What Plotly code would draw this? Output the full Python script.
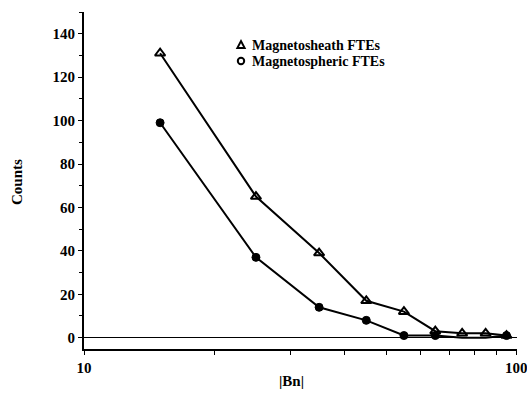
import plotly.graph_objects as go

# |Bn| bin centres and event counts per bin
bn = [15, 25, 35, 45, 55, 65, 75, 85, 95]
sheath_counts = [131, 65, 39, 17, 12, 3, 2, 2, 1]
sphere_counts = [99, 37, 14, 8, 1, 1, 0, 0, 1]

x_tick_vals = [10, 20, 30, 40, 50, 60, 70, 80, 90, 100]
x_tick_text = ["10", "", "", "", "", "", "", "", "", "100"]
y_tick_vals = [0, 20, 40, 60, 80, 100, 120, 140]

series_names = ["Magnetosheath FTEs", "Magnetospheric FTEs"]

serif = "Liberation Serif"
W, H = 527, 394
L, R, T, B = 84, 10, 12, 45
plot_w = W - L - R
plot_h = H - T - B


def py(pixel_y):
    return (H - B - pixel_y) / plot_h


def px(pixel_x):
    return (pixel_x - L) / plot_w


fig = go.Figure()

fig.add_trace(go.Scatter(
    x=bn, y=sheath_counts, mode="lines+markers", showlegend=False,
    line=dict(color="#000000", width=2),
    marker=dict(symbol="triangle-up-open", size=9, color="#000000",
                line=dict(color="#000000", width=2)),
))
# points lying on the baseline are drawn without a marker
sphere_sizes = [8 if c > 0 else 0 for c in sphere_counts]
fig.add_trace(go.Scatter(
    x=bn, y=sphere_counts, mode="lines+markers", showlegend=False,
    line=dict(color="#000000", width=2),
    marker=dict(symbol="circle", size=sphere_sizes, color="#000000",
                opacity=1, line=dict(color="#000000", width=1)),
))

# key: symbols drawn as shapes, labels as text
key_x, key_rows = 241, [45, 61]
tri = 3.6
shapes = [
    dict(type="path", xref="paper", yref="paper",
         path=(f"M {px(key_x - tri)} {py(key_rows[0] + tri * 0.8)} "
               f"L {px(key_x + tri)} {py(key_rows[0] + tri * 0.8)} "
               f"L {px(key_x)} {py(key_rows[0] - tri * 1.1)} Z"),
         line=dict(color="black", width=2)),
    dict(type="circle", xref="paper", yref="paper",
         x0=px(key_x - 3.2), x1=px(key_x + 3.2),
         y0=py(key_rows[1] + 3.2), y1=py(key_rows[1] - 3.2),
         line=dict(color="black", width=2)),
]

annotations = [
    dict(text=f"<b>{name}</b>", xref="paper", yref="paper",
         x=px(250), y=py(row), xanchor="left", yanchor="middle",
         showarrow=False, font=dict(family=serif, size=14))
    for name, row in zip(series_names, key_rows)
]
annotations += [
    dict(text="<b>|Bn|</b>", xref="paper", yref="paper",
         x=px(291), y=py(381), xanchor="center", yanchor="middle",
         showarrow=False, font=dict(family=serif, size=15)),
    dict(text="<b>Counts</b>", xref="paper", yref="paper",
         x=px(17), y=py(182), xanchor="center", yanchor="middle",
         textangle=-90, showarrow=False, font=dict(family=serif, size=15)),
]

fig.update_layout(
    width=W, height=H,
    margin=dict(l=L, r=R, t=T, b=B),
    paper_bgcolor="white", plot_bgcolor="white",
    font=dict(family=serif, size=15, color="black"),
    showlegend=False,
    shapes=shapes,
    annotations=annotations,
)

fig.update_xaxes(
    type="log", range=[1, 2.002],
    tickvals=x_tick_vals,
    ticktext=[f"<b>{t}</b>" if t else "" for t in x_tick_text],
    ticklabeloverflow="allow",
    ticks="outside", ticklen=4, tickwidth=1, tickcolor="black",
    tickfont=dict(family=serif, size=15),
    showline=True, linewidth=2, linecolor="black",
    showgrid=False, zeroline=False, automargin=False,
)
fig.update_yaxes(
    range=[-5.2, 150],
    tickvals=y_tick_vals, ticktext=[f"<b>{v}</b>" for v in y_tick_vals],
    ticks="outside", ticklen=4, tickwidth=1, tickcolor="black",
    tickfont=dict(family=serif, size=15),
    minor=dict(ticks="outside", ticklen=3, tickwidth=1, tickcolor="black",
               dtick=10, showgrid=False),
    showline=True, linewidth=2, linecolor="black",
    showgrid=False,
    zeroline=True, zerolinecolor="black", zerolinewidth=1,
)

fig.write_html("out.html")
